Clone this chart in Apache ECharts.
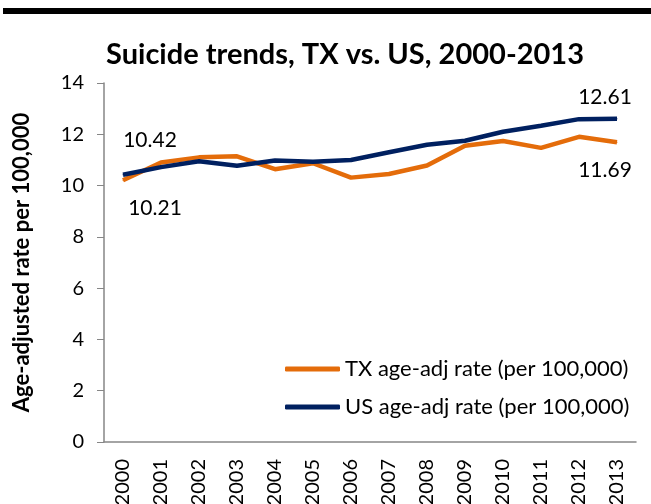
<!DOCTYPE html>
<html lang="en">
<head>
    <meta charset="UTF-8">
    <title>Suicide trends</title>
    <script src="https://cdn.jsdelivr.net/npm/echarts@6/dist/echarts.min.js"></script>
    <style>
        body{ margin: 0; background: #fff; }
        #chart{ width: 651px; height: 504px; }
    </style>
</head>
<body>
<div id="chart"></div>
<script>
    // years and age-adjusted rates per 100,000
    var years = ['2000','2001','2002','2003','2004','2005','2006','2007','2008','2009','2010','2011','2012','2013'];
    var txRate = [10.21, 10.90, 11.10, 11.14, 10.64, 10.87, 10.31, 10.45, 10.78, 11.55, 11.74, 11.47, 11.90, 11.69];
    var usRate = [10.42, 10.72, 10.95, 10.77, 10.98, 10.93, 11.00, 11.30, 11.59, 11.75, 12.10, 12.33, 12.59, 12.61];
    var yTicks = [0, 2, 4, 6, 8, 10, 12, 14];

    var font = 'Lato, "Open Sans", sans-serif';

    // only first and last points get a label
    function withLabels(arr, firstOff, lastOff){
        return arr.map(function(v, i){
            if(i == 0 || i == arr.length - 1){
                return {
                    value: v,
                    label: {show: true, position: 'inside', offset: i == 0 ? firstOff : lastOff,
                        formatter: function(p){ return p.value.toFixed(2); },
                        color: '#000', fontSize: 21, fontFamily: font}
                };
            }
            return v;
        });
    }

    var myChart = echarts.init(document.getElementById('chart'));
    myChart.setOption({
        animation: false,
        graphic: [{
            type: 'rect',
            shape: {x: 3, y: 8, width: 651, height: 6},
            style: {fill: '#000'}
        }],
        title: {
            text: 'Suicide trends, TX vs. US, 2000-2013',
            left: 340, top: 35,
            textAlign: 'center',
            textStyle: {fontFamily: font, fontWeight: 'bold', fontSize: 29, color: '#000'}
        },
        legend: {
            orient: 'vertical',
            left: 280, top: 353,
            itemWidth: 55, itemHeight: 5, itemGap: 16,
            icon: 'roundRect',
            textStyle: {fontFamily: font, fontSize: 22, color: '#000'},
            data: ['TX age-adj rate (per 100,000)', 'US age-adj rate (per 100,000)']
        },
        grid: {left: 104, right: 15, top: 83, bottom: 62, outerBoundsMode: 'none'},
        xAxis: {
            type: 'category',
            data: years,
            boundaryGap: true,
            axisLine: {lineStyle: {color: '#868686', width: 1.5}},
            axisTick: {length: 7, lineStyle: {color: '#868686'}},
            axisLabel: {rotate: 90, margin: 17, fontSize: 20, color: '#000', fontFamily: font}
        },
        yAxis: {
            type: 'value',
            min: yTicks[0], max: yTicks[yTicks.length - 1], interval: 2,
            name: 'Age-adjusted rate per 100,000',
            nameLocation: 'middle', nameGap: 71,
            nameTextStyle: {fontFamily: font, fontWeight: 'bold', fontSize: 22, color: '#000'},
            splitLine: {show: false},
            axisLine: {show: true, lineStyle: {color: '#868686', width: 1.5}},
            axisTick: {show: true, length: 7, lineStyle: {color: '#868686'}},
            axisLabel: {margin: 20, fontSize: 20, color: '#000', fontFamily: font}
        },
        series: [{
            name: 'TX age-adj rate (per 100,000)',
            type: 'line',
            data: withLabels(txRate, [32, 28], [-12, 28]),
            symbol: 'circle', symbolSize: 1,
            itemStyle: {color: '#E46C0A'},
            lineStyle: {color: '#E46C0A', width: 4.5},
            z: 2
        },{
            name: 'US age-adj rate (per 100,000)',
            type: 'line',
            data: withLabels(usRate, [27, -35], [-12, -21]),
            symbol: 'circle', symbolSize: 1,
            itemStyle: {color: '#002060'},
            lineStyle: {color: '#002060', width: 4.5},
            z: 3
        }]
    });
</script>
</body>
</html>
